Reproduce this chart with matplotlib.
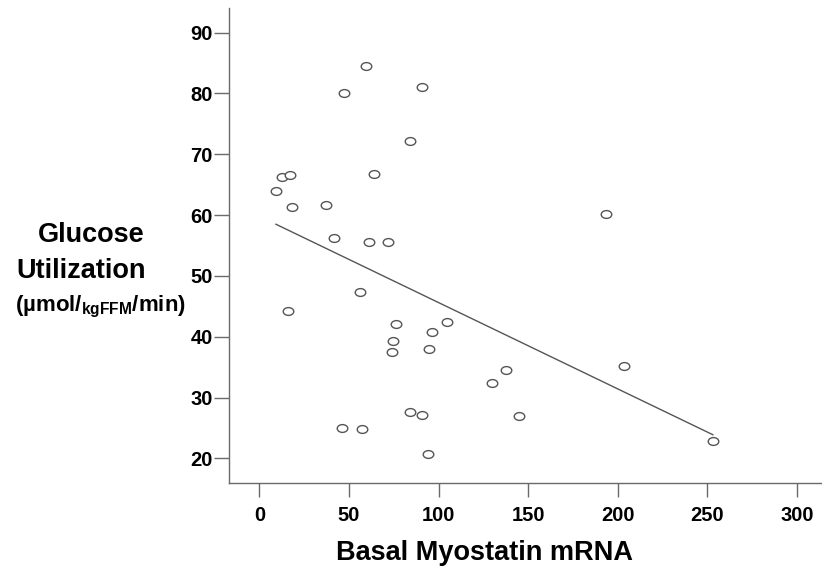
import matplotlib
matplotlib.use("Agg")
import matplotlib.pyplot as plt
import numpy as np
from matplotlib.path import Path
from matplotlib.transforms import Affine2D

# ---- data ----
myostatin = [59.6, 47.2, 90.9, 83.8, 12.4, 17.0, 64.1, 9.2, 18.0, 36.9,
             41.7, 61.3, 71.7, 55.9, 16.1, 76.4, 104.6, 96.4, 74.7, 74.1,
             94.6, 137.4, 129.6, 83.8, 90.5, 144.8, 45.9, 57.2, 94.2,
             193.2, 203.6, 253.1]
glucose = [84.5, 80.1, 81.0, 72.1, 66.3, 66.6, 66.7, 63.9, 61.3, 61.7,
           56.2, 55.5, 55.5, 47.3, 44.2, 42.1, 42.4, 40.7, 39.3, 37.5,
           38.0, 34.5, 32.4, 27.7, 27.1, 27.0, 25.0, 24.9, 20.7,
           60.2, 35.2, 22.8]
fit_intercept = 59.8
fit_slope = -0.1419
xticks = [0, 50, 100, 150, 200, 250, 300]
yticks = [20, 30, 40, 50, 60, 70, 80, 90]

plt.rcParams['font.family'] = ['Liberation Sans', 'DejaVu Sans']
plt.rcParams['font.weight'] = 'bold'
plt.rcParams['mathtext.fontset'] = 'custom'
plt.rcParams['mathtext.rm'] = 'Liberation Sans:bold'
plt.rcParams['mathtext.it'] = 'Liberation Sans:bold'
plt.rcParams['mathtext.bf'] = 'Liberation Sans:bold'

W, H = 822, 572
fig = plt.figure(figsize=(W / 100, H / 100), dpi=100)
ax = fig.add_axes([229.2 / W, 1 - 482.7 / H, 1 - 229.2 / W, (482.7 - 8.3) / H])
ax.set_xlim(-16.9, 314)
ax.set_ylim(16, 94)

gray = '#6a6a6a'
circ = Path.unit_circle()
ell = Path(Affine2D().scale(1.0, 0.74).transform(circ.vertices), circ.codes)

ax.plot(myostatin, glucose, linestyle='none', marker=ell, markersize=7.6,
        markerfacecolor='white', markeredgecolor='#555555', markeredgewidth=1.0,
        zorder=3)

xf = np.array([min(myostatin), max(myostatin)])
ax.plot(xf, fit_intercept + fit_slope * xf, color='#555555', linewidth=1.0, zorder=2)

for s in ['top', 'right']:
    ax.spines[s].set_visible(False)
for s in ['left', 'bottom']:
    ax.spines[s].set_color(gray)
    ax.spines[s].set_linewidth(1.0)

ax.set_xticks(xticks)
ax.set_yticks(yticks)
ax.set_xticklabels([str(v) for v in xticks], fontsize=14.5, fontweight='bold')
ax.set_yticklabels([str(v) for v in yticks], fontsize=14.5, fontweight='bold')
ax.tick_params(axis='x', direction='out', length=10, width=1, color=gray, pad=6.5)
ax.tick_params(axis='y', direction='out', length=11, width=1, color=gray, pad=1)

fig.text(484 / W, 1 - 553 / H, 'Basal Myostatin mRNA', ha='center', va='center',
         fontsize=19.5, fontweight='bold')

fig.text(38 / W, 1 - 235 / H, 'Glucose', ha='left', va='center',
         fontsize=19.5, fontweight='bold')
fig.text(16 / W, 1 - 271 / H, 'Utilization', ha='left', va='center',
         fontsize=19.5, fontweight='bold')
fig.text(15 / W, 1 - 307 / H, '(\u00b5mol/$_{\\mathrm{kgFFM}}$/min)', ha='left',
         va='center', fontsize=16, fontweight='bold')

fig.savefig('out.png', dpi=100)
